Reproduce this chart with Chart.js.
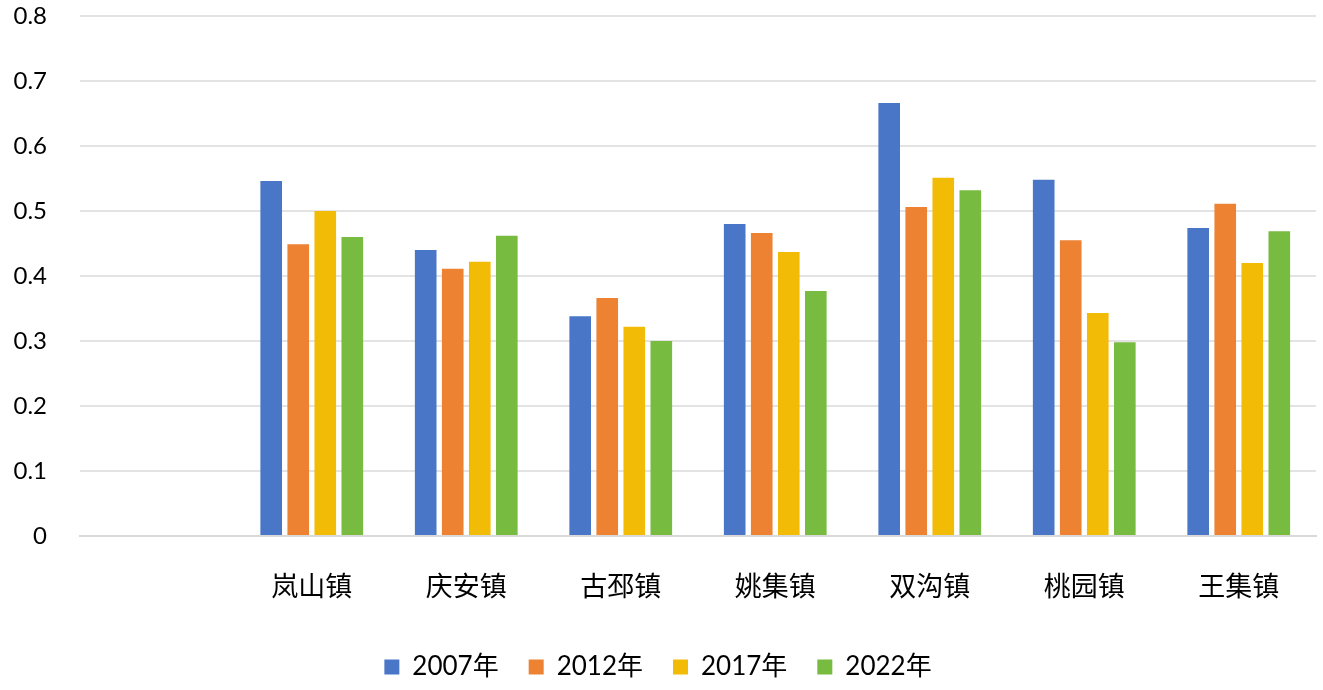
<!DOCTYPE html>
<html>
<head>
<meta charset="utf-8">
<script src="https://cdn.jsdelivr.net/npm/chart.js@4"></script>
<style>
  html, body { margin: 0; padding: 0; background: #fff; }
  #wrap { width: 1323px; height: 690px; }
</style>
</head>
<body>
<div id="wrap"><canvas id="townChart"></canvas></div>
<script>
// first category is left empty in the original
const towns = ['', '岚山镇', '庆安镇', '古邳镇', '姚集镇', '双沟镇', '桃园镇', '王集镇'];
const years = ['2007年', '2012年', '2017年', '2022年'];
const v2007 = [null, 0.546, 0.440, 0.338, 0.480, 0.666, 0.548, 0.474];
const v2012 = [null, 0.449, 0.411, 0.366, 0.466, 0.506, 0.455, 0.511];
const v2017 = [null, 0.500, 0.422, 0.322, 0.437, 0.551, 0.343, 0.420];
const v2022 = [null, 0.460, 0.462, 0.300, 0.377, 0.532, 0.298, 0.469];
const colors = ['#4A76C8', '#ED8232', '#F2BB05', '#77BB41'];

const numFont = 'Lato, "Noto Sans CJK SC", sans-serif';

document.addEventListener('DOMContentLoaded', () => {
    const ctx = document.getElementById('townChart').getContext('2d');
    new Chart(ctx, {
        type: 'bar',
        data: {
            labels: towns,
            datasets: [v2007, v2012, v2017, v2022].map((d, i) => ({
                label: years[i],
                data: d,
                backgroundColor: colors[i],
                borderWidth: 0,
                categoryPercentage: 0.7,
                barPercentage: 0.8
            }))
        },
        options: {
            responsive: true,
            maintainAspectRatio: false,
            animation: false,
            layout: { padding: { top: 16, right: 7, left: 0, bottom: 0 } },
            plugins: {
                tooltip: { enabled: false },
                legend: {
                    position: 'bottom',
                    labels: {
                        boxWidth: 15,
                        boxHeight: 15,
                        padding: 30,
                        color: '#000',
                        font: { family: numFont, size: 26 }
                    }
                }
            },
            scales: {
                x: {
                    grid: { display: false, drawTicks: false },
                    border: { display: true, color: '#d9d9d9', width: 2 },
                    ticks: {
                        color: '#000',
                        padding: 34,
                        font: { family: '"Noto Sans CJK SC", sans-serif', size: 27 }
                    },
                    afterFit: scale => { scale.height = 88; }
                },
                y: {
                    min: 0,
                    max: 0.8,
                    grid: { color: '#e3e3e3', lineWidth: 2, drawTicks: false },
                    border: { display: false },
                    ticks: {
                        stepSize: 0.1,
                        color: '#000',
                        padding: 33,
                        font: { family: numFont, size: 24 },
                        callback: v => (Math.round(v * 10) / 10).toString()
                    },
                    afterFit: scale => {
                        scale.width = 80;
                        // tick padding is horizontal only here
                        scale.paddingTop = 0;
                        scale.paddingBottom = 0;
                    }
                }
            }
        }
    });
});
</script>
</body>
</html>
